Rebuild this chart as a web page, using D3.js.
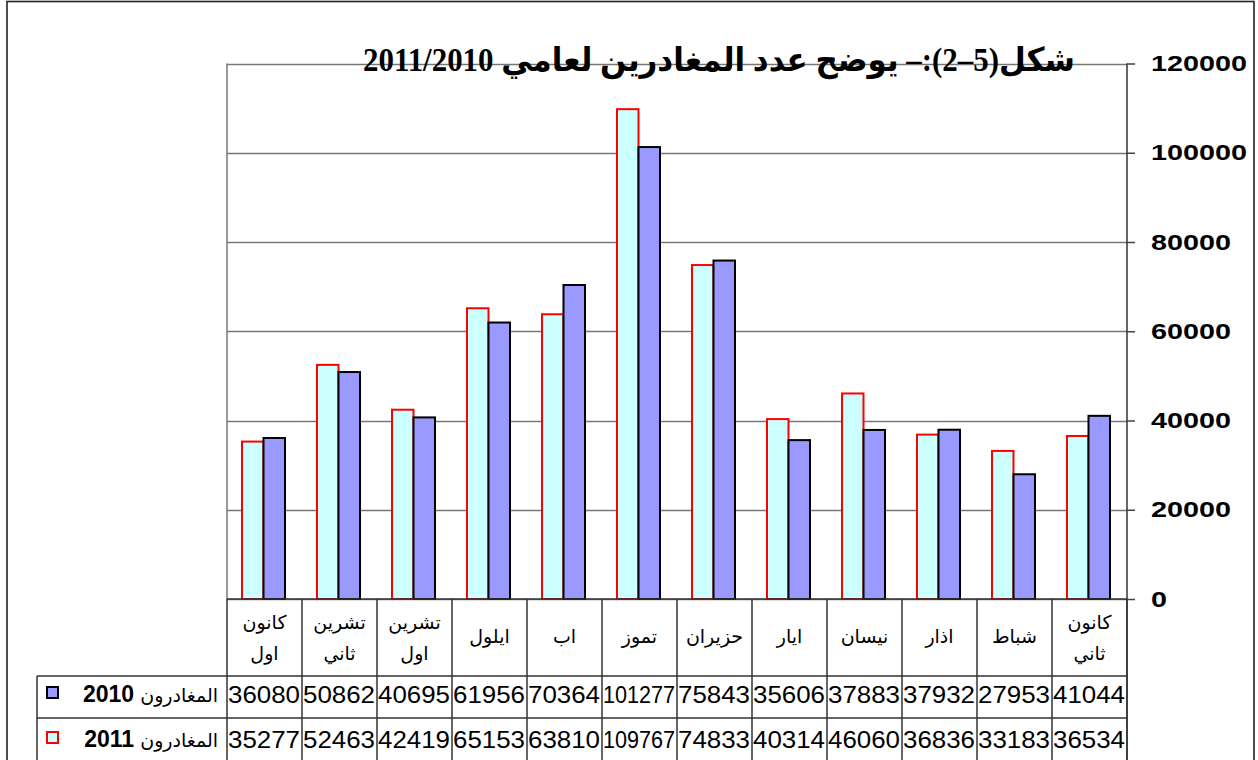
<!DOCTYPE html>
<html lang="ar">
<head>
<meta charset="utf-8">
<script src="https://cdn.jsdelivr.net/npm/d3@7"></script>
<style>
  html, body { margin: 0; padding: 0; background: #fff; }
  svg { display: block; }
</style>
</head>
<body>
<svg id="chart" width="1258" height="760"></svg>
<script>
// Months, in calendar order (drawn right to left)
const months = ["كانون ثاني", "شباط", "اذار", "نيسان", "ايار", "حزيران", "تموز", "اب", "ايلول", "تشرين اول", "تشرين ثاني", "كانون اول"];
// Departures per month
const departures2010 = [41044, 27953, 37932, 37883, 35606, 75843, 101277, 70364, 61956, 40695, 50862, 36080];
const departures2011 = [36534, 33183, 36836, 46060, 40314, 74833, 109767, 63810, 65153, 42419, 52463, 35277];
const yTicks = [0, 20000, 40000, 60000, 80000, 100000, 120000];
const seriesLabel = "المغادرون";
const seriesYears = ["2011", "2010"];
const titleText = "شكل(5–2):– يوضح عدد المغادرين لعامي 2011/2010";

const svg = d3.select("#chart");
const plot = { left: 227, right: 1127, top: 63.5, bottom: 599 };
const rowTop = [599, 676, 718, 760];

const x = d3.scaleBand().domain(months).range([plot.right, plot.left]).padding(0);
const xInner = d3.scaleBand().domain(seriesYears).range([15, 58]).padding(0);
const y = d3.scaleLinear().domain([0, 120000]).range([plot.bottom, plot.top]);

const style = {
  "2010": { fill: "#9999FF", stroke: "#000" },
  "2011": { fill: "#CCFFFF", stroke: "#FF0000" }
};

// Outer frame
svg.append("rect")
  .attr("x", 7).attr("y", 1.5).attr("width", 1247).attr("height", 800)
  .attr("fill", "none").attr("stroke", "#222").attr("stroke-width", 1.6);

// Horizontal gridlines
svg.append("g").selectAll("line").data(yTicks).join("line")
  .attr("x1", plot.left).attr("x2", plot.right)
  .attr("y1", d => Math.round(y(d)) + 0.5).attr("y2", d => Math.round(y(d)) + 0.5)
  .attr("stroke", "#777").attr("stroke-width", 1.5);

// Left border of the plot area
svg.append("line")
  .attr("x1", plot.left).attr("x2", plot.left)
  .attr("y1", plot.top).attr("y2", plot.bottom)
  .attr("stroke", "#777").attr("stroke-width", 1.5);

// Title
svg.append("text")
  .attr("x", 719).attr("y", 63)
  .attr("direction", "rtl")
  .attr("text-anchor", "middle")
  .attr("dominant-baseline", "middle")
  .attr("font-family", "'Liberation Serif', 'DejaVu Sans', serif")
  .attr("font-weight", "bold")
  .attr("font-size", 33)
  .attr("textLength", 712)
  .attr("lengthAdjust", "spacingAndGlyphs")
  .attr("fill", "#000")
  .text(titleText);

// Bars
const barData = months.flatMap((m, i) => [
  { month: m, year: "2011", value: departures2011[i] },
  { month: m, year: "2010", value: departures2010[i] }
]);
svg.append("g").selectAll("rect").data(barData).join("rect")
  .attr("x", d => x(d.month) + xInner(d.year))
  .attr("y", d => y(d.value))
  .attr("width", xInner.bandwidth())
  .attr("height", d => plot.bottom - y(d.value))
  .attr("fill", d => style[d.year].fill)
  .attr("stroke", d => style[d.year].stroke)
  .attr("stroke-width", 2);

// Right value axis
const yAxis = svg.append("g")
  .attr("transform", `translate(${plot.right},0)`)
  .call(d3.axisRight(y).tickValues(yTicks).tickSize(8).tickPadding(16).tickFormat(d3.format("d")));
yAxis.select(".domain").remove();
yAxis.selectAll(".tick line").attr("stroke", "#444").attr("stroke-width", 1.5);
yAxis.selectAll(".tick text")
  .attr("font-family", "'Liberation Sans', Arial, sans-serif")
  .attr("font-weight", "bold")
  .attr("font-size", 22)
  .attr("fill", "#000")
  .attr("textLength", d => String(d).length * 16)
  .attr("lengthAdjust", "spacingAndGlyphs");

// Data table grid
const grid = svg.append("g").attr("stroke", "#333").attr("stroke-width", 1.5);
// axis / table right edge
grid.append("line").attr("x1", plot.right).attr("x2", plot.right).attr("y1", plot.top).attr("y2", 760);
// category column separators
const colEdges = months.map(m => x(m)).concat([plot.right]);
grid.selectAll(".col").data(colEdges).join("line")
  .attr("x1", d => d).attr("x2", d => d)
  .attr("y1", plot.bottom).attr("y2", 760);
// row lines
grid.append("line").attr("x1", plot.left).attr("x2", plot.right).attr("y1", rowTop[0]).attr("y2", rowTop[0]);
grid.append("line").attr("x1", 37).attr("x2", plot.right).attr("y1", rowTop[1]).attr("y2", rowTop[1]);
grid.append("line").attr("x1", 37).attr("x2", plot.right).attr("y1", rowTop[2]).attr("y2", rowTop[2]);
grid.append("line").attr("x1", 37).attr("x2", 37).attr("y1", rowTop[1]).attr("y2", 760);

// Month labels in the header row
const labels = svg.append("g")
  .attr("font-family", "'DejaVu Sans', sans-serif")
  .attr("font-size", 19)
  .attr("fill", "#000")
  .attr("text-anchor", "middle");
months.forEach(m => {
  const parts = m.split(" ");
  const cx = x(m) + x.bandwidth() / 2;
  const ys = parts.length === 2 ? [623, 654] : [637];
  parts.forEach((p, j) => {
    labels.append("text")
      .attr("x", cx).attr("y", ys[j])
      .attr("direction", "rtl")
      .attr("dominant-baseline", "middle")
      .text(p);
  });
});

// Value rows
const rows = [
  { year: "2010", values: departures2010, baseline: 703 },
  { year: "2011", values: departures2011, baseline: 748 }
];
rows.forEach(r => {
  svg.append("g").selectAll("text").data(months).join("text")
    .attr("x", m => x(m) + x.bandwidth() - 2)
    .attr("y", r.baseline)
    .attr("text-anchor", "end")
    .attr("font-family", "'Liberation Sans', Arial, sans-serif")
    .attr("font-size", 23)
    .attr("fill", "#000")
    .attr("textLength", 72)
    .attr("lengthAdjust", "spacingAndGlyphs")
    .text((m, i) => r.values[i]);
});

// Legend keys in the row headers
rows.forEach(r => {
  const base = r.baseline;
  svg.append("rect")
    .attr("x", 47).attr("y", base - 16)
    .attr("width", 11).attr("height", 11)
    .attr("fill", style[r.year].fill)
    .attr("stroke", style[r.year].stroke)
    .attr("stroke-width", 2);
  const t = svg.append("text")
    .attr("x", 218).attr("y", base - 1)
    .attr("text-anchor", "end")
    .attr("fill", "#000");
  t.append("tspan")
    .attr("font-family", "'Liberation Sans', Arial, sans-serif")
    .attr("font-weight", "bold").attr("font-size", 23).text(r.year);
  t.append("tspan")
    .attr("font-family", "'DejaVu Sans', sans-serif")
    .attr("font-size", 19).text("  " + seriesLabel);
});
</script>
</body>
</html>
